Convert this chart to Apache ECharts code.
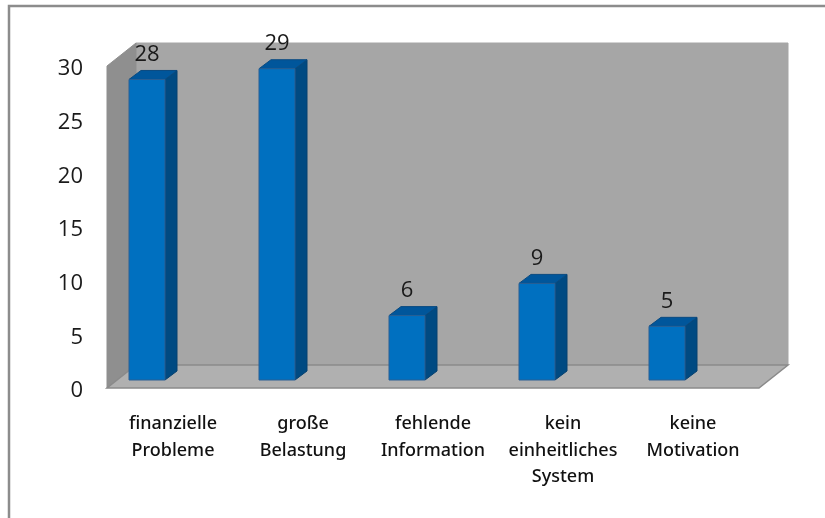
<!DOCTYPE html>
<html>
<head>
<meta charset="utf-8">
<style>html,body{margin:0;padding:0;background:#fff}#chart{width:825px;height:518px}</style>
<script src="https://cdn.jsdelivr.net/npm/echarts@6/dist/echarts.min.js"></script>
</head>
<body>
<div id="chart"></div>
<script>
const categories = ['finanzielle\nProbleme', 'große\nBelastung', 'fehlende\nInformation', 'kein\neinheitliches\nSystem', 'keine\nMotivation'];
const values = [28, 29, 6, 9, 5];
const axisMax = 30;
const axisStep = 5;

// Pseudo-3D box geometry, in pixels relative to the front plane of the grid
const WALL_DX = 29, WALL_DY = -23;
const BAR_W = 36, BAR_SHIFT = -44, BAR_LIFT = -8;
const BAR_DX = 12, BAR_DY = -9;

const chart = echarts.init(document.getElementById('chart'), null, { renderer: 'canvas' });

function renderBox(params, api) {
  const cs = params.coordSys;
  const x0 = cs.x - 1, x1 = cs.x + cs.width + 1, yb = api.coord([0, 0])[1], yt = api.coord([0, axisMax])[1];
  const poly = (pts, fill, stroke, w) => ({
    type: 'polygon', shape: { points: pts },
    style: { fill, stroke: stroke || fill, lineWidth: w || 1 }
  });
  return {
    type: 'group',
    children: [
      poly([[x0 + WALL_DX, yt + WALL_DY], [x1 + WALL_DX, yt + WALL_DY], [x1 + WALL_DX, yb + WALL_DY], [x0 + WALL_DX, yb + WALL_DY]], '#a6a6a6'),
      poly([[x0, yt], [x0 + WALL_DX, yt + WALL_DY], [x0 + WALL_DX, yb + WALL_DY], [x0, yb]], '#8f8f8f'),
      poly([[x0, yb], [x1, yb], [x1 + WALL_DX, yb + WALL_DY], [x0 + WALL_DX, yb + WALL_DY]], '#b0b0b0', '#8a8a8a', 1.5)
    ]
  };
}

function renderBar(params, api) {
  const i = api.value(0), v = api.value(1);
  const top = api.coord([i, v]), base = api.coord([i, 0]);
  const l = top[0] + BAR_SHIFT, r = l + BAR_W;
  const t = top[1] + BAR_LIFT, b = base[1] + BAR_LIFT;
  const poly = (pts, fill, stroke) => ({
    type: 'polygon', shape: { points: pts },
    style: { fill, stroke, lineWidth: 1 }
  });
  return {
    type: 'group',
    children: [
      poly([[r, t], [r + BAR_DX, t + BAR_DY], [r + BAR_DX, b + BAR_DY], [r, b]], '#004a82', '#06406e'),
      poly([[l, t], [l + BAR_DX, t + BAR_DY], [r + BAR_DX, t + BAR_DY], [r, t]], '#00569b', '#0a4a80'),
      poly([[l, t], [r, t], [r, b], [l, b]], '#0070c0', '#2a5f93'),
      {
        type: 'text',
        style: {
          x: (l + r) / 2, y: t + BAR_DY - 16,
          text: String(v), align: 'center', verticalAlign: 'middle',
          font: '22px "Open Sans"', fill: '#1a1a1a'
        }
      }
    ]
  };
}

chart.setOption({
  animation: false,
  backgroundColor: '#fff',
  graphic: [{
    type: 'polyline',
    shape: { points: [[9, 518], [9, 6], [825, 6]] },
    style: { stroke: '#8c8c8c', lineWidth: 2.5, fill: null },
    silent: true
  }],
  grid: { left: 108, right: 67, top: 66, bottom: 130 },
  xAxis: {
    type: 'category',
    data: categories,
    axisLine: { show: false },
    axisTick: { show: false },
    axisLabel: {
      interval: 0, margin: 23, lineHeight: 26.5,
      fontFamily: 'Noto Sans', fontSize: 18, fontWeight: 500, color: '#111'
    }
  },
  yAxis: {
    type: 'value',
    min: 0, max: axisMax, interval: axisStep,
    splitLine: { show: false },
    axisLine: { show: false },
    axisTick: { show: false },
    axisLabel: {
      margin: 25,
      formatter: '{tick|{value}}',
      rich: { tick: { padding: [6, 0, 0, 0], fontFamily: 'Open Sans', fontSize: 22, color: '#1a1a1a' } }
    }
  },
  series: [
    { type: 'custom', renderItem: renderBox, data: [[0, 0]], z: 1, silent: true },
    { type: 'custom', renderItem: renderBar, data: values.map((v, i) => [i, v]), encode: { x: 0, y: 1 }, z: 2 }
  ]
});
</script>
</body>
</html>
